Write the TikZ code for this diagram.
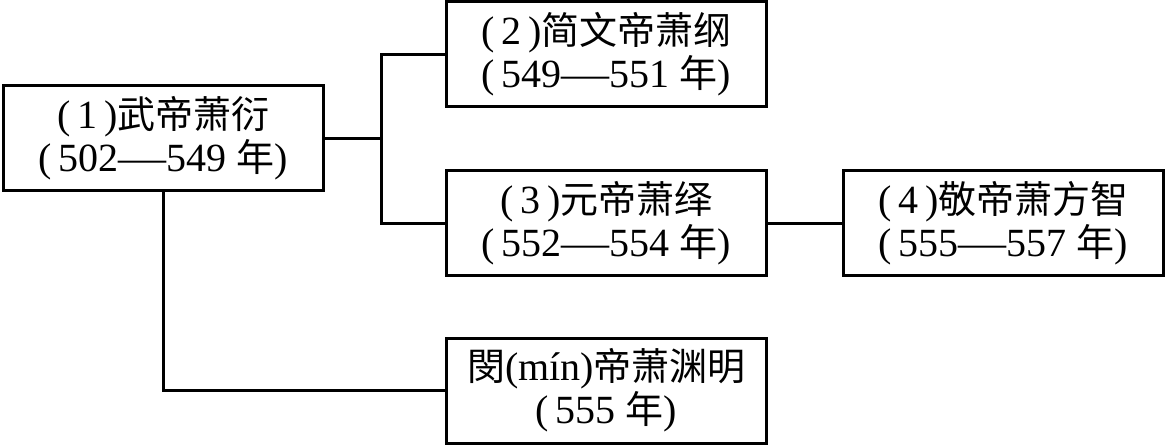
\documentclass[tikz,border=0pt]{standalone}
\usepackage{fontspec}
\setmainfont{Liberation Serif}
\newfontfamily\cjk[Scale=0.95]{Noto Sans CJK SC}
\usepackage{tikz}
\newcommand{\yrdash}{\scalebox{1.2}[1]{—}}

\begin{document}
\begin{tikzpicture}[x=1pt, y=-1pt, line width=3pt,
  reign/.style={rectangle, draw, minimum width=320pt, minimum height=105pt,
    align=center, inner sep=0pt, font=\fontsize{40}{43}\selectfont}]
  \useasboundingbox (0,0) rectangle (1167,446);
  \node (wu) [reign] at (163.5,138.5) {(\,1\,){\cjk 武帝萧衍}\\(\,502\yrdash549 {\cjk 年})};
  \node (jianwen) [reign] at (606.5,54.5) {(\,2\,){\cjk 简文帝萧纲}\\(\,549\yrdash551 {\cjk 年})};
  \node (yuan) [reign] at (606.5,223.5) {(\,3\,){\cjk 元帝萧绎}\\(\,552\yrdash554 {\cjk 年})};
  \node (jing) [reign] at (1003.5,223.5) {(\,4\,){\cjk 敬帝萧方智}\\(\,555\yrdash557 {\cjk 年})};
  \node (min) [reign] at (606.5,390.5) {{\cjk 閔}(mín){\cjk 帝萧渊明}\\(\,555 {\cjk 年})};
  \coordinate (fork) at (381,138.5);
  \draw (wu.east) -- (fork);
  \draw (jianwen.west) -| (fork) |- (yuan.west);
  \draw (yuan) -- (jing);
  \draw (wu.south) |- (min.west);
\end{tikzpicture}
\end{document}
